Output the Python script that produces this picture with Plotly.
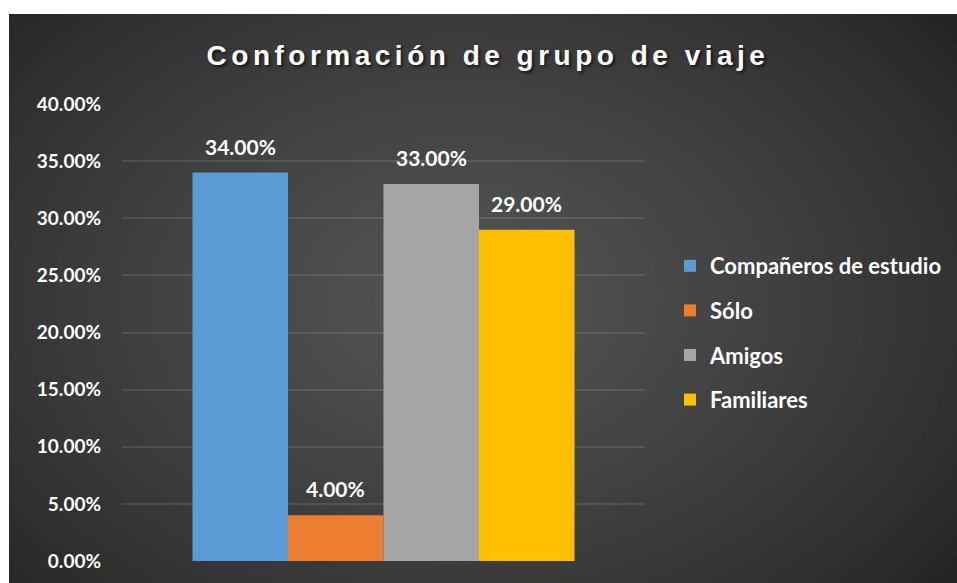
import plotly.graph_objects as go

# ── Data ──────────────────────────────────────────────────────────────
SERIES_NAMES = ["Compañeros de estudio", "Sólo", "Amigos", "Familiares"]
SERIES_VALUES = [0.34, 0.04, 0.33, 0.29]
Y_TICKS = [0.0, 0.05, 0.10, 0.15, 0.20, 0.25, 0.30, 0.35, 0.40]

# ── Style ─────────────────────────────────────────────────────────────
BAR_COLORS = ["#5b9bd5", "#ed7d31", "#a5a5a5", "#ffc000"]
TEXT = "#ffffff"
GRID = "rgba(255,255,255,0.10)"
FONT = "Lato"

W, H = 957, 583
M_L, M_R, M_T, M_B = 122, 957 - 645, 104, 583 - 561
PW, PH = W - M_L - M_R, H - M_T - M_B
BAR_PX = 95.5                     # one bar (= one x unit) in pixels
X_SPAN = PW / BAR_PX
X_MID = (len(SERIES_NAMES) - 1) / 2


def px(x):  # window pixel -> paper x
    return (x - M_L) / PW


def py(y):  # window pixel -> paper y
    return (H - M_B - y) / PH


def mix(c0, c1, t):
    return "#%02x%02x%02x" % tuple(round(a + (b - a) * t) for a, b in zip(c0, c1))


# radial gradient drawn as concentric ellipses on a dark paper
outer, inner = (0x24, 0x24, 0x24), (0x55, 0x55, 0x55)
shapes = []
cx, cy = 460, 300
steps = 40
for i in range(steps):
    t = i / (steps - 1)
    rx = 620 * (1 - t) + 8
    ry = 440 * (1 - t) + 6
    shapes.append(dict(
        type="circle", xref="paper", yref="paper", layer="below",
        x0=px(cx - rx), x1=px(cx + rx), y0=py(cy + ry), y1=py(cy - ry),
        fillcolor=mix(outer, inner, t ** 0.8), line=dict(width=0),
    ))
# white margins at top / left
for x0, x1, y0, y1 in [(0, W, 0, 14), (0, 9, 0, H)]:
    shapes.append(dict(
        type="rect", xref="paper", yref="paper", layer="below",
        x0=px(x0), x1=px(x1), y0=py(y1), y1=py(y0),
        fillcolor="white", line=dict(width=0),
    ))

fig = go.Figure()
annotations = []
for i, (name, val) in enumerate(zip(SERIES_NAMES, SERIES_VALUES)):
    fig.add_trace(go.Bar(
        x=[i], y=[val], name=name, width=1, legendgroup=name,
        marker=dict(color=BAR_COLORS[i], line=dict(width=0)),
        hovertemplate="%{y:.2%}<extra>" + name + "</extra>",
    ))
    annotations.append(dict(
        x=i, y=val, xref="x", yref="y", text=f"{val:.2%}",
        showarrow=False, yanchor="bottom", yshift=12,
        font=dict(family=FONT, size=21, color=TEXT, weight="bold"),
    ))

fig.update_layout(
    width=W, height=H,
    margin=dict(l=M_L, r=M_R, t=M_T, b=M_B, autoexpand=False),
    paper_bgcolor=mix(outer, inner, 0),
    plot_bgcolor="rgba(0,0,0,0)",
    barmode="overlay",
    shapes=shapes,
    annotations=annotations,
    title=dict(
        text='<span style="letter-spacing:4.5px">Conformación de grupo de viaje</span>',
        font=dict(family="Liberation Sans", size=28, color=TEXT, weight="bold",
                  shadow="2px 2px 3px rgba(0,0,0,0.6)"),
        xref="container", yref="container",
        x=488 / W, y=1 - 55 / H,
        xanchor="center", yanchor="middle",
    ),
    xaxis=dict(range=[X_MID - X_SPAN / 2, X_MID + X_SPAN / 2],
               showticklabels=False, showgrid=False, zeroline=False, showline=False),
    yaxis=dict(
        range=[0, 0.40], tickvals=Y_TICKS, tickformat=".2%",
        tickfont=dict(family=FONT, size=19, color=TEXT, weight="bold"),
        gridcolor=GRID, gridwidth=2, zeroline=False, showline=False,
        ticklabelstandoff=20,
    ),
    legend=dict(
        x=px(670), y=py(333), xanchor="left", yanchor="middle",
        font=dict(family=FONT, size=22, color=TEXT, weight="bold"),
        bgcolor="rgba(0,0,0,0)", tracegroupgap=13, itemwidth=30,
    ),
    showlegend=True,
)

fig.write_html(
    "out.html",
    config={"displayModeBar": False},
    post_script="document.body.style.margin='0';document.body.style.overflow='hidden';",
)
